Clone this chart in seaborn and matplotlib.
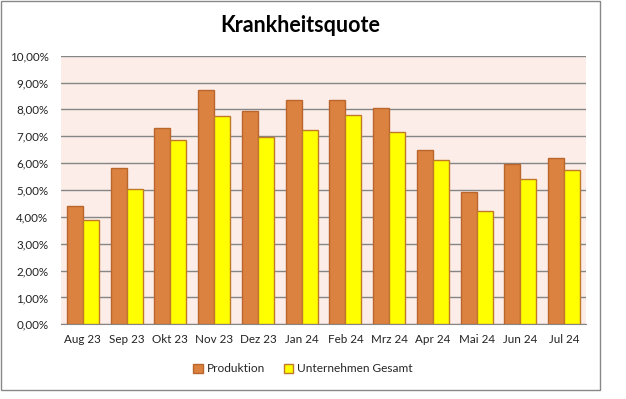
import pandas as pd
import seaborn as sns
from matplotlib import pyplot as plt
from matplotlib.patches import Rectangle, Patch
from matplotlib.ticker import FuncFormatter, MultipleLocator

monate = ["Aug 23", "Sep 23", "Okt 23", "Nov 23", "Dez 23", "Jan 24",
          "Feb 24", "Mrz 24", "Apr 24", "Mai 24", "Jun 24", "Jul 24"]
produktion = [4.40, 5.82, 7.31, 8.73, 7.95, 8.36, 8.36, 8.06, 6.49, 4.91, 5.97, 6.18]
gesamt = [3.88, 5.04, 6.87, 7.76, 6.98, 7.24, 7.80, 7.16, 6.11, 4.20, 5.40, 5.73]
serien = ["Produktion", "Unternehmen Gesamt"]

df = pd.DataFrame({
    "Monat": monate * 2,
    "Quote": produktion + gesamt,
    "Serie": [serien[0]] * len(monate) + [serien[1]] * len(monate),
})

sns.set_style("white")
plt.rcParams["font.family"] = ["Lato", "DejaVu Sans"]

farben = {"Produktion": "#DC8240", "Unternehmen Gesamt": "#FFFF00"}
kanten = {"Produktion": "#B9652C", "Unternehmen Gesamt": "#C0782A"}

W, H = 626, 399
fig = plt.figure(figsize=(W / 100, H / 100), dpi=100)
ax = fig.add_axes([61 / W, 1 - 324.3 / H, (586 - 61) / W, (324.3 - 55.7) / H])

sns.barplot(data=df, x="Monat", y="Quote", hue="Serie", palette=farben,
            width=0.73, saturation=1, legend=False, ax=ax, zorder=3)

for cont, s in zip(ax.containers, serien):
    for bar in cont:
        bar.set_edgecolor(kanten[s])
        bar.set_linewidth(1.0)

ax.set_facecolor("#FCEDE8")
ax.set_ylim(0, 10)
ax.set_xlim(-0.5, len(monate) - 0.5)
ax.yaxis.set_major_locator(MultipleLocator(1))
ax.yaxis.set_major_formatter(FuncFormatter(lambda v, p: f"{v:.2f}%".replace(".", ",")))
ax.grid(axis="y", color="#868686", linewidth=1, zorder=0)
ax.set_axisbelow(True)
for side in ["left", "right", "top"]:
    ax.spines[side].set_visible(False)
ax.spines["bottom"].set_color("#868686")
ax.tick_params(axis="both", length=0, labelsize=8.4, colors="#222222")
ax.tick_params(axis="x", pad=7)
ax.tick_params(axis="y", pad=9)
ax.set_xlabel("")
ax.set_ylabel("")

fig.text(300 / W, 1 - 25 / H, "Krankheitsquote", ha="center", va="center",
         fontsize=15.5, fontweight="bold", color="black")

handles = [Patch(facecolor=farben[s], edgecolor=kanten[s], label=s) for s in serien]
fig.legend(handles=handles, loc="center", bbox_to_anchor=(303 / W, 1 - 369 / H),
           ncol=2, frameon=False, fontsize=8.6, handlelength=0.8, handleheight=0.8,
           handletextpad=0.3, columnspacing=1.6)

fig.patches.append(Rectangle((0.5 / W, 1 - 390 / H), 599 / W, 389.5 / H,
                             transform=fig.transFigure, fill=False,
                             edgecolor="#888888", linewidth=1))

plt.savefig("out.png", dpi=100)
plt.close()
